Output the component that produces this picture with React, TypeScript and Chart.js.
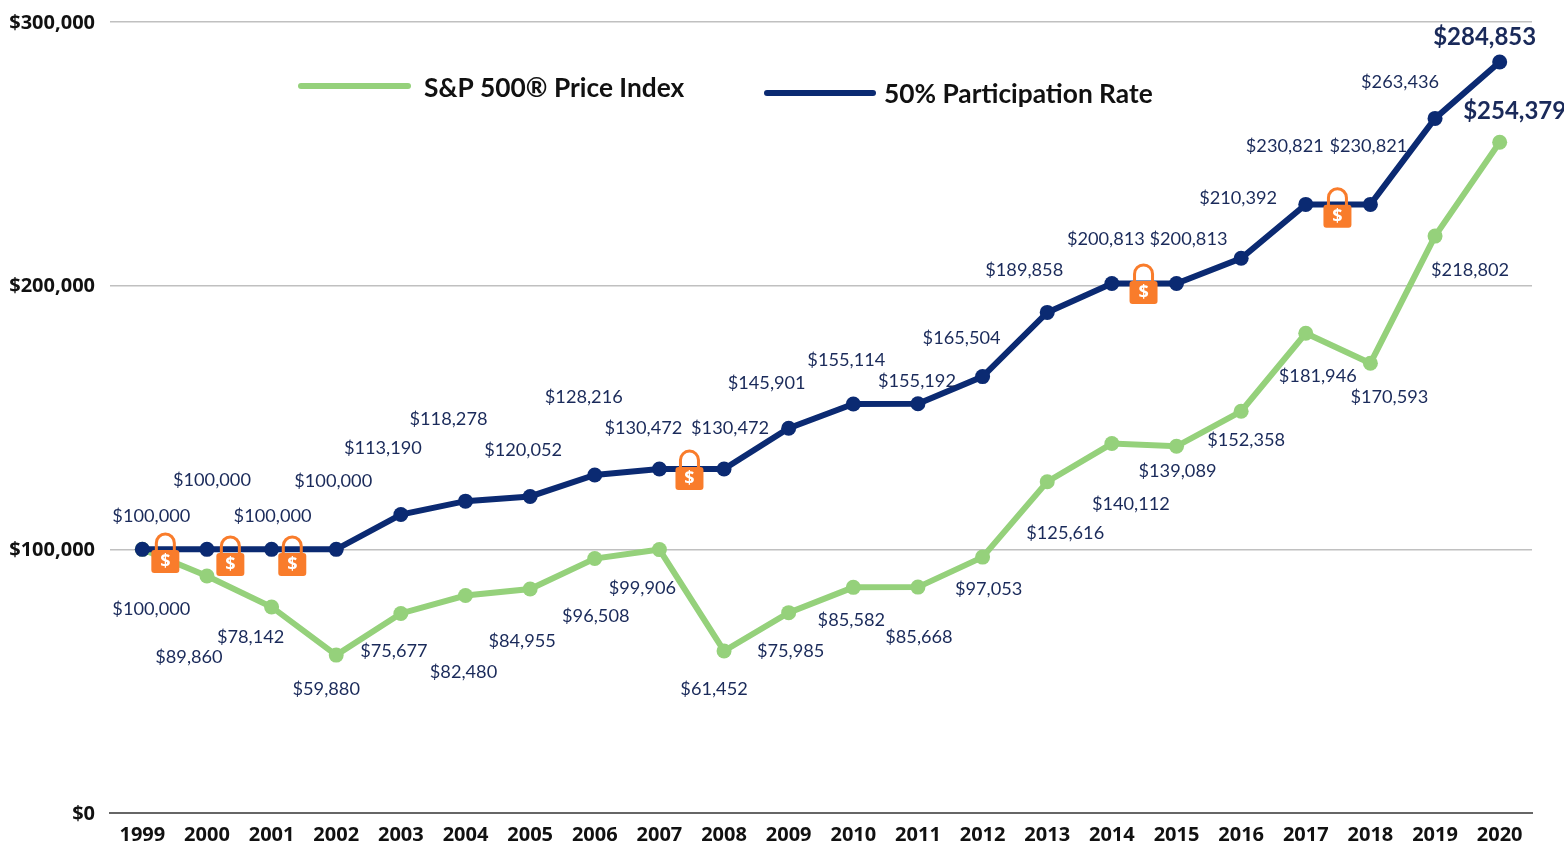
import React, { useEffect, useRef } from "react";
import { Chart, registerables } from "chart.js";

Chart.register(...registerables);

const years = ["1999","2000","2001","2002","2003","2004","2005","2006","2007","2008","2009","2010","2011","2012","2013","2014","2015","2016","2017","2018","2019","2020"];
const sp500 = [100000,89860,78142,59880,75677,82480,84955,96508,99906,61452,75985,85582,85668,97053,125616,140112,139089,152358,181946,170593,218802,254379];
const participation = [100000,100000,100000,100000,113190,118278,120052,128216,130472,130472,145901,155114,155192,165504,189858,200813,200813,210392,230821,230821,263436,284853];
const yTicks = [0, 100000, 200000, 300000];

const navyDx = [9,5,1,-3,-18,-17,-7,-11,-16,6,-22,-7,-1,-21,-23,-6,12,-3,-21,-2,-35,-15];
const navyDy = [-33,-69,-33,-68,-66,-82,-46,-78,-41,-41,-45,-44,-23,-38,-42,-44,-44,-60,-58,-58,-36,-25];
const greenDx = [9,-18,-21,-10,-7,-2,-8,1,-17,-10,2,-2,1,6,18,19,1,5,12,19,35,15];
const greenDy = [60,81,30,34,38,77,52,58,39,38,38,33,50,32,51,61,25,29,43,34,34,-31];

const lockPositions = [0.356, 1.362, 2.32, 8.465, 15.49, 18.49];
const lockValues = [99745, 98600, 98600, 131200, 201800, 230700];

const NAVY = "#0b2a72";
const GREEN = "#95d17b";
const LABEL = "#1a2a5a";
const ORANGE = "#f97c2b";

const fmt = (v: number) => "$" + v.toLocaleString("en-US");

const labelsPlugin = {
  id: "valueLabels",
  afterDatasetsDraw(chart: any) {
    const { ctx, scales } = chart;
    const x = scales.x, y = scales.y;
    const drawSeries = (values: number[], dx: number[], dy: number[]) => {
      values.forEach((v, i) => {
        const last = i === values.length - 1;
        ctx.font = last ? "bold 24px Lato" : "18.2px Lato";
        ctx.fillStyle = LABEL;
        ctx.textAlign = "center";
        ctx.textBaseline = "middle";
        ctx.fillText(fmt(v), x.getPixelForValue(i) + dx[i], y.getPixelForValue(v) + dy[i]);
      });
    };
    drawSeries(participation, navyDx, navyDy);
    drawSeries(sp500, greenDx, greenDy);

    lockPositions.forEach((p, i) => {
      const cx = x.getPixelForValue(p);
      const top = y.getPixelForValue(lockValues[i]);
      ctx.save();
      ctx.strokeStyle = ORANGE;
      ctx.lineWidth = 3;
      ctx.beginPath();
      ctx.moveTo(cx - 9, top + 1);
      ctx.lineTo(cx - 9, top - 7);
      ctx.arc(cx, top - 7, 9, Math.PI, 0);
      ctx.lineTo(cx + 9, top + 1);
      ctx.stroke();
      ctx.fillStyle = ORANGE;
      ctx.beginPath();
      ctx.roundRect(cx - 14, top, 28, 23, 3);
      ctx.fill();
      ctx.fillStyle = "#ffffff";
      ctx.font = "bold 18px 'Open Sans'";
      ctx.textAlign = "center";
      ctx.textBaseline = "middle";
      ctx.fillText("$", cx, top + 12);
      ctx.restore();
    });

    const legend = (x0: number, x1: number, ly: number, tx: number, ty: number, color: string, text: string) => {
      ctx.save();
      ctx.strokeStyle = color;
      ctx.lineWidth = 6;
      ctx.lineCap = "round";
      ctx.beginPath();
      ctx.moveTo(x0, ly);
      ctx.lineTo(x1, ly);
      ctx.stroke();
      ctx.fillStyle = "#111111";
      ctx.font = "bold 26.3px Lato";
      ctx.textAlign = "left";
      ctx.textBaseline = "middle";
      ctx.fillText(text, tx, ty);
      ctx.restore();
    };
    legend(301, 408, 86, 424, 89, GREEN, chart.data.datasets[1].label);
    legend(767, 873, 93, 884, 95, NAVY, chart.data.datasets[0].label);
  },
};

export default function App() {
  const ref = useRef<HTMLCanvasElement>(null);
  useEffect(() => {
    const chart = new Chart(ref.current!, {
      type: "line",
      data: {
        labels: years,
        datasets: [
          { label: "50% Participation Rate", data: participation, borderColor: NAVY, backgroundColor: NAVY, borderWidth: 6, pointRadius: 7.5, pointBorderWidth: 0, pointHoverRadius: 7.5, tension: 0, order: 1 },
          { label: "S&P 500® Price Index", data: sp500, borderColor: GREEN, backgroundColor: GREEN, borderWidth: 6, pointRadius: 7.5, pointBorderWidth: 0, pointHoverRadius: 7.5, tension: 0, order: 2 },
        ],
      },
      options: {
        animation: false,
        responsive: false,
        layout: { padding: { top: 22, right: 32, left: 0, bottom: 0 } },
        plugins: { legend: { display: false }, tooltip: { enabled: false }, title: { display: false } },
        scales: {
          x: {
            offset: true,
            grid: { display: false },
            border: { color: "#666666", width: 2 },
            ticks: { color: "#111111", font: { family: "'Open Sans'", weight: "bold", size: 20 }, padding: 2, maxRotation: 0, autoSkip: false },
            afterFit: (s: any) => { s.height = 31; s.paddingLeft = 0; s.paddingRight = 0; },
          },
          y: {
            min: 0,
            max: 300000,
            afterBuildTicks: (s: any) => { s.ticks = yTicks.map((value) => ({ value })); },
            grid: { color: "#c0c0c0", lineWidth: 1.5, drawTicks: false },
            border: { display: false },
            ticks: { color: "#111111", font: { family: "'Open Sans'", weight: "bold", size: 20 }, padding: 15, labelOffset: 1, callback: (v: any) => fmt(Number(v)) },
            afterFit: (s: any) => { s.width = 110; s.paddingTop = 0; s.paddingBottom = 0; },
          },
        },
      },
      plugins: [labelsPlugin],
    } as any);
    return () => chart.destroy();
  }, []);
  return <canvas ref={ref} width={1564} height={844} style={{ position: "fixed", left: 0, top: 0, width: 1564, height: 844 }} />;
}
